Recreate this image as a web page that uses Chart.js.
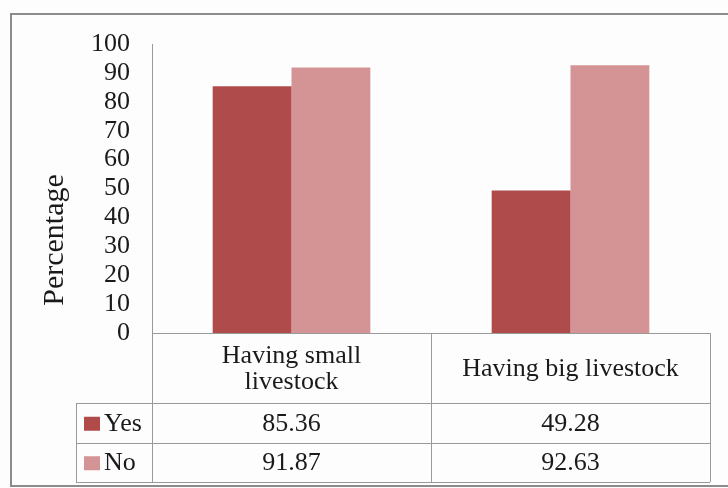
<!DOCTYPE html>
<html>
<head>
<meta charset="utf-8">
<title>Livestock</title>
<script src="https://cdn.jsdelivr.net/npm/chart.js@4/dist/chart.umd.min.js"></script>
<style>
  html, body { margin: 0; padding: 0; background: #fff; }
  canvas { display: block; }
</style>
</head>
<body>
<canvas id="livestock-chart" width="728" height="488"></canvas>
<script>
var categories = [['Having small', 'livestock'], 'Having big livestock'];
var seriesNames = ['Yes', 'No'];
var yesValues = [85.36, 49.28];
var noValues = [91.87, 92.63];
var yTicks = [0, 10, 20, 30, 40, 50, 60, 70, 80, 90, 100];

(function () {
  'use strict';

  var FONT = "'Liberation Serif', 'Times New Roman', serif";
  var COLORS = ['#B04B4B', '#D49394'];
  var LINE = '#9a9a9a';
  var TEXT = '#1a1a1a';
  var seriesValues = [yesValues, noValues];

  // рамка, подпись оси и таблица данных под осью
  var dataTablePlugin = {
    id: 'dataTable',
    beforeDraw: function (chart) {
      var ctx = chart.ctx;
      ctx.save();
      ctx.fillStyle = '#fdfdfd';
      ctx.fillRect(0, 0, chart.width, chart.height);
      ctx.strokeStyle = '#8c8c8c';
      ctx.lineWidth = 2;
      ctx.strokeRect(11, 14, chart.width + 20, chart.height - 16);
      ctx.restore();
    },
    afterDraw: function (chart) {
      var ctx = chart.ctx;
      var area = chart.chartArea;
      var xs = chart.scales.x;
      var colW = (area.right - area.left) / categories.length;
      var legendLeft = 76;
      var headerBottom = area.bottom + 70;
      var rowH = 39.5;
      var tableBottom = headerBottom + rowH * seriesNames.length;

      ctx.save();

      // подпись оси Y
      ctx.save();
      ctx.translate(55, 240);
      ctx.rotate(-Math.PI / 2);
      ctx.fillStyle = TEXT;
      ctx.font = '30px ' + FONT;
      ctx.textAlign = 'center';
      ctx.textBaseline = 'middle';
      ctx.fillText('Percentage', 0, 0);
      ctx.restore();

      ctx.strokeStyle = LINE;
      ctx.lineWidth = 1;
      ctx.beginPath();
      // верх и вертикали
      ctx.moveTo(area.left, area.bottom + 0.5);
      ctx.lineTo(area.right, area.bottom + 0.5);
      for (var c = 0; c <= categories.length; c++) {
        var vx = Math.round(area.left + c * colW) + 0.5;
        ctx.moveTo(vx, area.bottom);
        ctx.lineTo(vx, tableBottom);
      }
      ctx.moveTo(legendLeft + 0.5, headerBottom);
      ctx.lineTo(legendLeft + 0.5, tableBottom);
      for (var r = 0; r <= seriesNames.length; r++) {
        var hy = Math.round(headerBottom + r * rowH) + 0.5;
        ctx.moveTo(legendLeft, hy);
        ctx.lineTo(area.right, hy);
      }
      ctx.stroke();

      ctx.fillStyle = TEXT;
      ctx.font = '26px ' + FONT;
      ctx.textAlign = 'center';
      ctx.textBaseline = 'middle';

      // заголовки категорий
      categories.forEach(function (label, i) {
        var cx = xs.getPixelForValue(i);
        var lines = Array.isArray(label) ? label : [label];
        var lh = 26;
        var cy = area.bottom + 36 - (lines.length - 1) * lh / 2;
        lines.forEach(function (t, k) {
          ctx.fillText(t, cx, cy + k * lh);
        });
      });

      // значения и легенда
      seriesNames.forEach(function (name, s) {
        var cy = headerBottom + rowH * s + rowH / 2 + 1;
        seriesValues[s].forEach(function (v, i) {
          ctx.textAlign = 'center';
          ctx.fillText(v.toFixed(2), xs.getPixelForValue(i), cy);
        });
        ctx.fillStyle = COLORS[s];
        ctx.fillRect(84, cy - 7, 16, 14);
        ctx.fillStyle = TEXT;
        ctx.textAlign = 'left';
        ctx.fillText(name, 104, cy);
      });
      ctx.restore();
    }
  };

  var ctx = document.getElementById('livestock-chart');

  new Chart(ctx, {
    type: 'bar',
    data: {
      labels: categories,
      datasets: seriesNames.map(function (name, s) {
        return {
          label: name,
          data: seriesValues[s],
          backgroundColor: COLORS[s],
          borderWidth: 0,
          categoryPercentage: 0.565,
          barPercentage: 1.0,
        };
      }),
    },
    plugins: [dataTablePlugin],
    options: {
      responsive: false,
      animation: false,
      layout: {
        padding: { top: 44, right: 18, bottom: 155, left: 0 },
      },
      plugins: {
        legend: { display: false },
        tooltip: { enabled: false },
      },
      scales: {
        x: {
          display: false,
        },
        y: {
          min: 0,
          max: 100,
          afterBuildTicks: function (scale) {
            scale.ticks = yTicks.map(function (v) {
              return { value: v };
            });
          },
          afterFit: function (scale) {
            scale.width = 152;
          },
          grid: { display: false, drawTicks: false },
          border: { display: true, color: LINE, width: 1 },
          ticks: {
            autoSkip: false,
            padding: 22,
            color: TEXT,
            font: { family: FONT, size: 26 },
          },
        },
      },
    },
  });
})();
</script>
</body>
</html>
